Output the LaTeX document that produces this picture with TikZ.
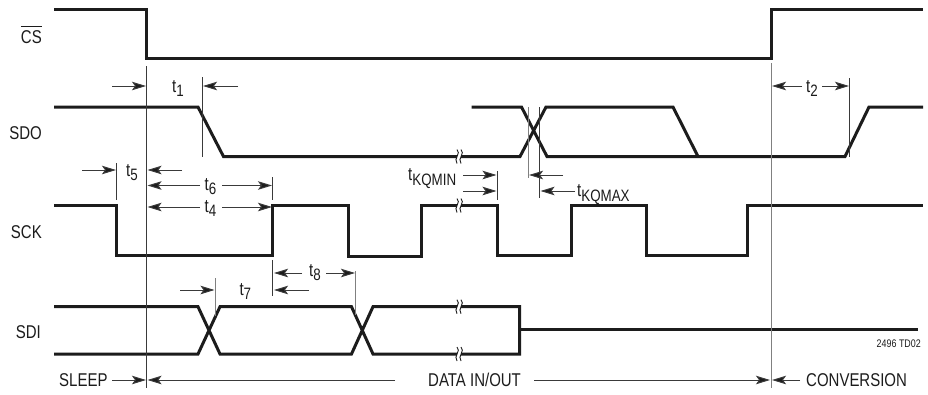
\documentclass[tikz,border=0pt]{standalone}
\usepackage{fontspec}
\setmainfont[FakeStretch=0.81]{Liberation Sans}
\usetikzlibrary{arrows.meta}
\definecolor{ink}{HTML}{1C1C1C}
\definecolor{dimc}{HTML}{3A3A3A}
\definecolor{greyc}{HTML}{808080}
\newcommand\tsb[2]{t\raisebox{-#1pt}{\fontsize{16.5}{18}\selectfont #2}}
\newcommand\dimarrow[4]{\coordinate (#1a) at (#2,#4);\coordinate (#1b) at (#3,#4);\draw[dimline] (#1a) -- (#1b);}
\newcommand\tickline[5][dimc]{\coordinate (#2a) at (#3,#4);\coordinate (#2b) at (#3,#5);\draw[thinline,draw=#1] (#2a) -- (#2b);}
\newcommand\wavebreak[2]{%
  \fill[white] (#1-1.8,#2-3) rectangle (#1+1.8,#2+3);
  \draw[breakline] (#1-2,#2-7) .. controls (#1+2.5,#2-3) and (#1-6,#2+2) .. (#1-2,#2+7);
  \draw[breakline] (#1+2,#2-7) .. controls (#1+6.5,#2-3) and (#1-2,#2+2) .. (#1+2,#2+7);}
\tikzset{
  wave/.style={draw=ink,line width=3pt,line join=miter,miter limit=3},
  thinline/.style={line width=1pt},
  breakline/.style={draw=ink,line width=0.9pt},
  dimline/.style={draw=dimc,line width=1pt,-{Stealth[length=14pt,width=8.5pt,inset=3pt,fill=ink]}},
  txt/.style={inner sep=0pt,text=ink,font=\fontsize{18.5}{20}\selectfont},
  lab/.style={txt,anchor=base west},
  sig/.style={txt,anchor=base east},
  small/.style={inner sep=0pt,text=ink,anchor=base east,font=\fontsize{11}{12}\selectfont}
}
\begin{document}
\begin{tikzpicture}[x=1pt,y=-1pt]
\useasboundingbox (0,0) rectangle (928,394);
\fill[white] (0,0) rectangle (928,394);
% waveforms
\draw[wave] (54,9) -- (146.5,9) -- (146.5,58.5) -- (771,58.5) -- (771,9) -- (923,9);
\draw[wave] (54,107) -- (198,107) -- (223.5,156.5) -- (520,156.5) -- (546,107) -- (673,107) -- (698,156.5);
\draw[wave] (471.5,107) -- (521.5,107) -- (547,156.5) -- (845,156.5) -- (869,107) -- (923,107);
\draw[wave] (54,205.5) -- (116,205.5) -- (116,255.5) -- (272.5,255.5) -- (272.5,205.5) -- (348,205.5) -- (348,256) -- (421,256) -- (421,205.5) -- (497,205.5) -- (497,255.5) -- (571,255.5) -- (571,205.5) -- (646,205.5) -- (646,255.5) -- (747.5,255.5) -- (747.5,205.5) -- (923,205.5);
\draw[wave] (54,306.7) -- (198,306.7) -- (220,354) -- (351.5,354) -- (373,306.7) -- (519.5,306.7) -- (519.5,354) -- (373,354) -- (351.5,306.7) -- (220,306.7) -- (198,354) -- (54,354);
\draw[wave] (519.5,329.5) -- (918,329.5);
% breaks
\wavebreak{459}{156.5}
\wavebreak{459}{205.5}
\wavebreak{459}{306.7}
\wavebreak{459}{354}
% long verticals
\tickline{vone}{146.5}{66}{388}
\tickline[greyc]{vtwo}{771}{63}{388}
% ticks
\tickline{tka}{202}{77}{157}
\tickline{tkb}{849}{78}{157}
\tickline{tkc}{116}{163}{200}
\tickline{tkd}{272.5}{177}{200}
\tickline[greyc]{tke}{215}{278}{316}
\tickline{tkf}{272.7}{260}{296}
\tickline[greyc]{tkg}{355.7}{271}{315}
\tickline{tkh}{497}{171}{200}
\tickline[greyc]{tki}{528}{107}{178}
\tickline{tkj}{539.5}{107}{198}
% dimension arrows
\dimarrow{aa}{112}{146}{86}
\dimarrow{ab}{238}{203}{86}
\dimarrow{ac}{802}{772}{86}
\dimarrow{ad}{822}{849}{86}
\dimarrow{ae}{82}{116}{170}
\dimarrow{af}{182}{147.5}{170}
\dimarrow{ag}{200}{147.5}{185.5}
\dimarrow{ah}{222}{272}{185.5}
\dimarrow{ai}{200}{147.5}{207}
\dimarrow{aj}{222}{272}{207}
\dimarrow{ak}{463}{496.5}{175}
\dimarrow{al}{463}{496.5}{191}
\dimarrow{am}{563}{529}{175}
\dimarrow{an}{575}{540.5}{191}
\dimarrow{ao}{180}{214.5}{290}
\dimarrow{ap}{302}{274}{273}
\dimarrow{aq}{326}{355}{273}
\dimarrow{ar}{309}{274}{290}
\dimarrow{as}{112}{146}{380}
\dimarrow{at}{395}{147.5}{380}
\dimarrow{au}{534}{770}{380}
\dimarrow{av}{800}{772}{380}
% signal names
\node[sig] (cs) at (42,43.5) {CS};
\draw[thinline,draw=ink] ([yshift=3.5pt]cs.north west) -- ([yshift=3.5pt]cs.north east);
\node[sig] (sdo) at (42,139) {SDO};
\node[sig] (sck) at (42,238) {SCK};
\node[sig] (sdi) at (41,338) {SDI};
% timing labels
\node[lab] (t1) at (172,92.7) {\tsb{4}{1}};
\node[lab] (t2) at (806,92) {\tsb{4}{2}};
\node[lab] (t5) at (126,176) {\tsb{4}{5}};
\node[lab] (t6) at (204.5,190.5) {\tsb{4}{6}};
\node[lab] (t4) at (204.5,212.7) {\tsb{4}{4}};
\node[lab] (t7) at (239.3,295.7) {\tsb{4}{7}};
\node[lab] (t8) at (309,276.7) {\tsb{4}{8}};
\node[lab] (tmin) at (408,180) {\tsb{5}{KQMIN}};
\node[lab] (tmax) at (577,196) {\tsb{5}{KQMAX}};
% phases
\node[lab] (sleep) at (59,386.7) {SLEEP};
\node[lab] (data) at (428,386.7) {DATA IN/OUT};
\node[lab] (conv) at (806,386.7) {CONVERSION};
\node[small] (code) at (921,347) {2496 TD02};
\end{tikzpicture}
\end{document}
